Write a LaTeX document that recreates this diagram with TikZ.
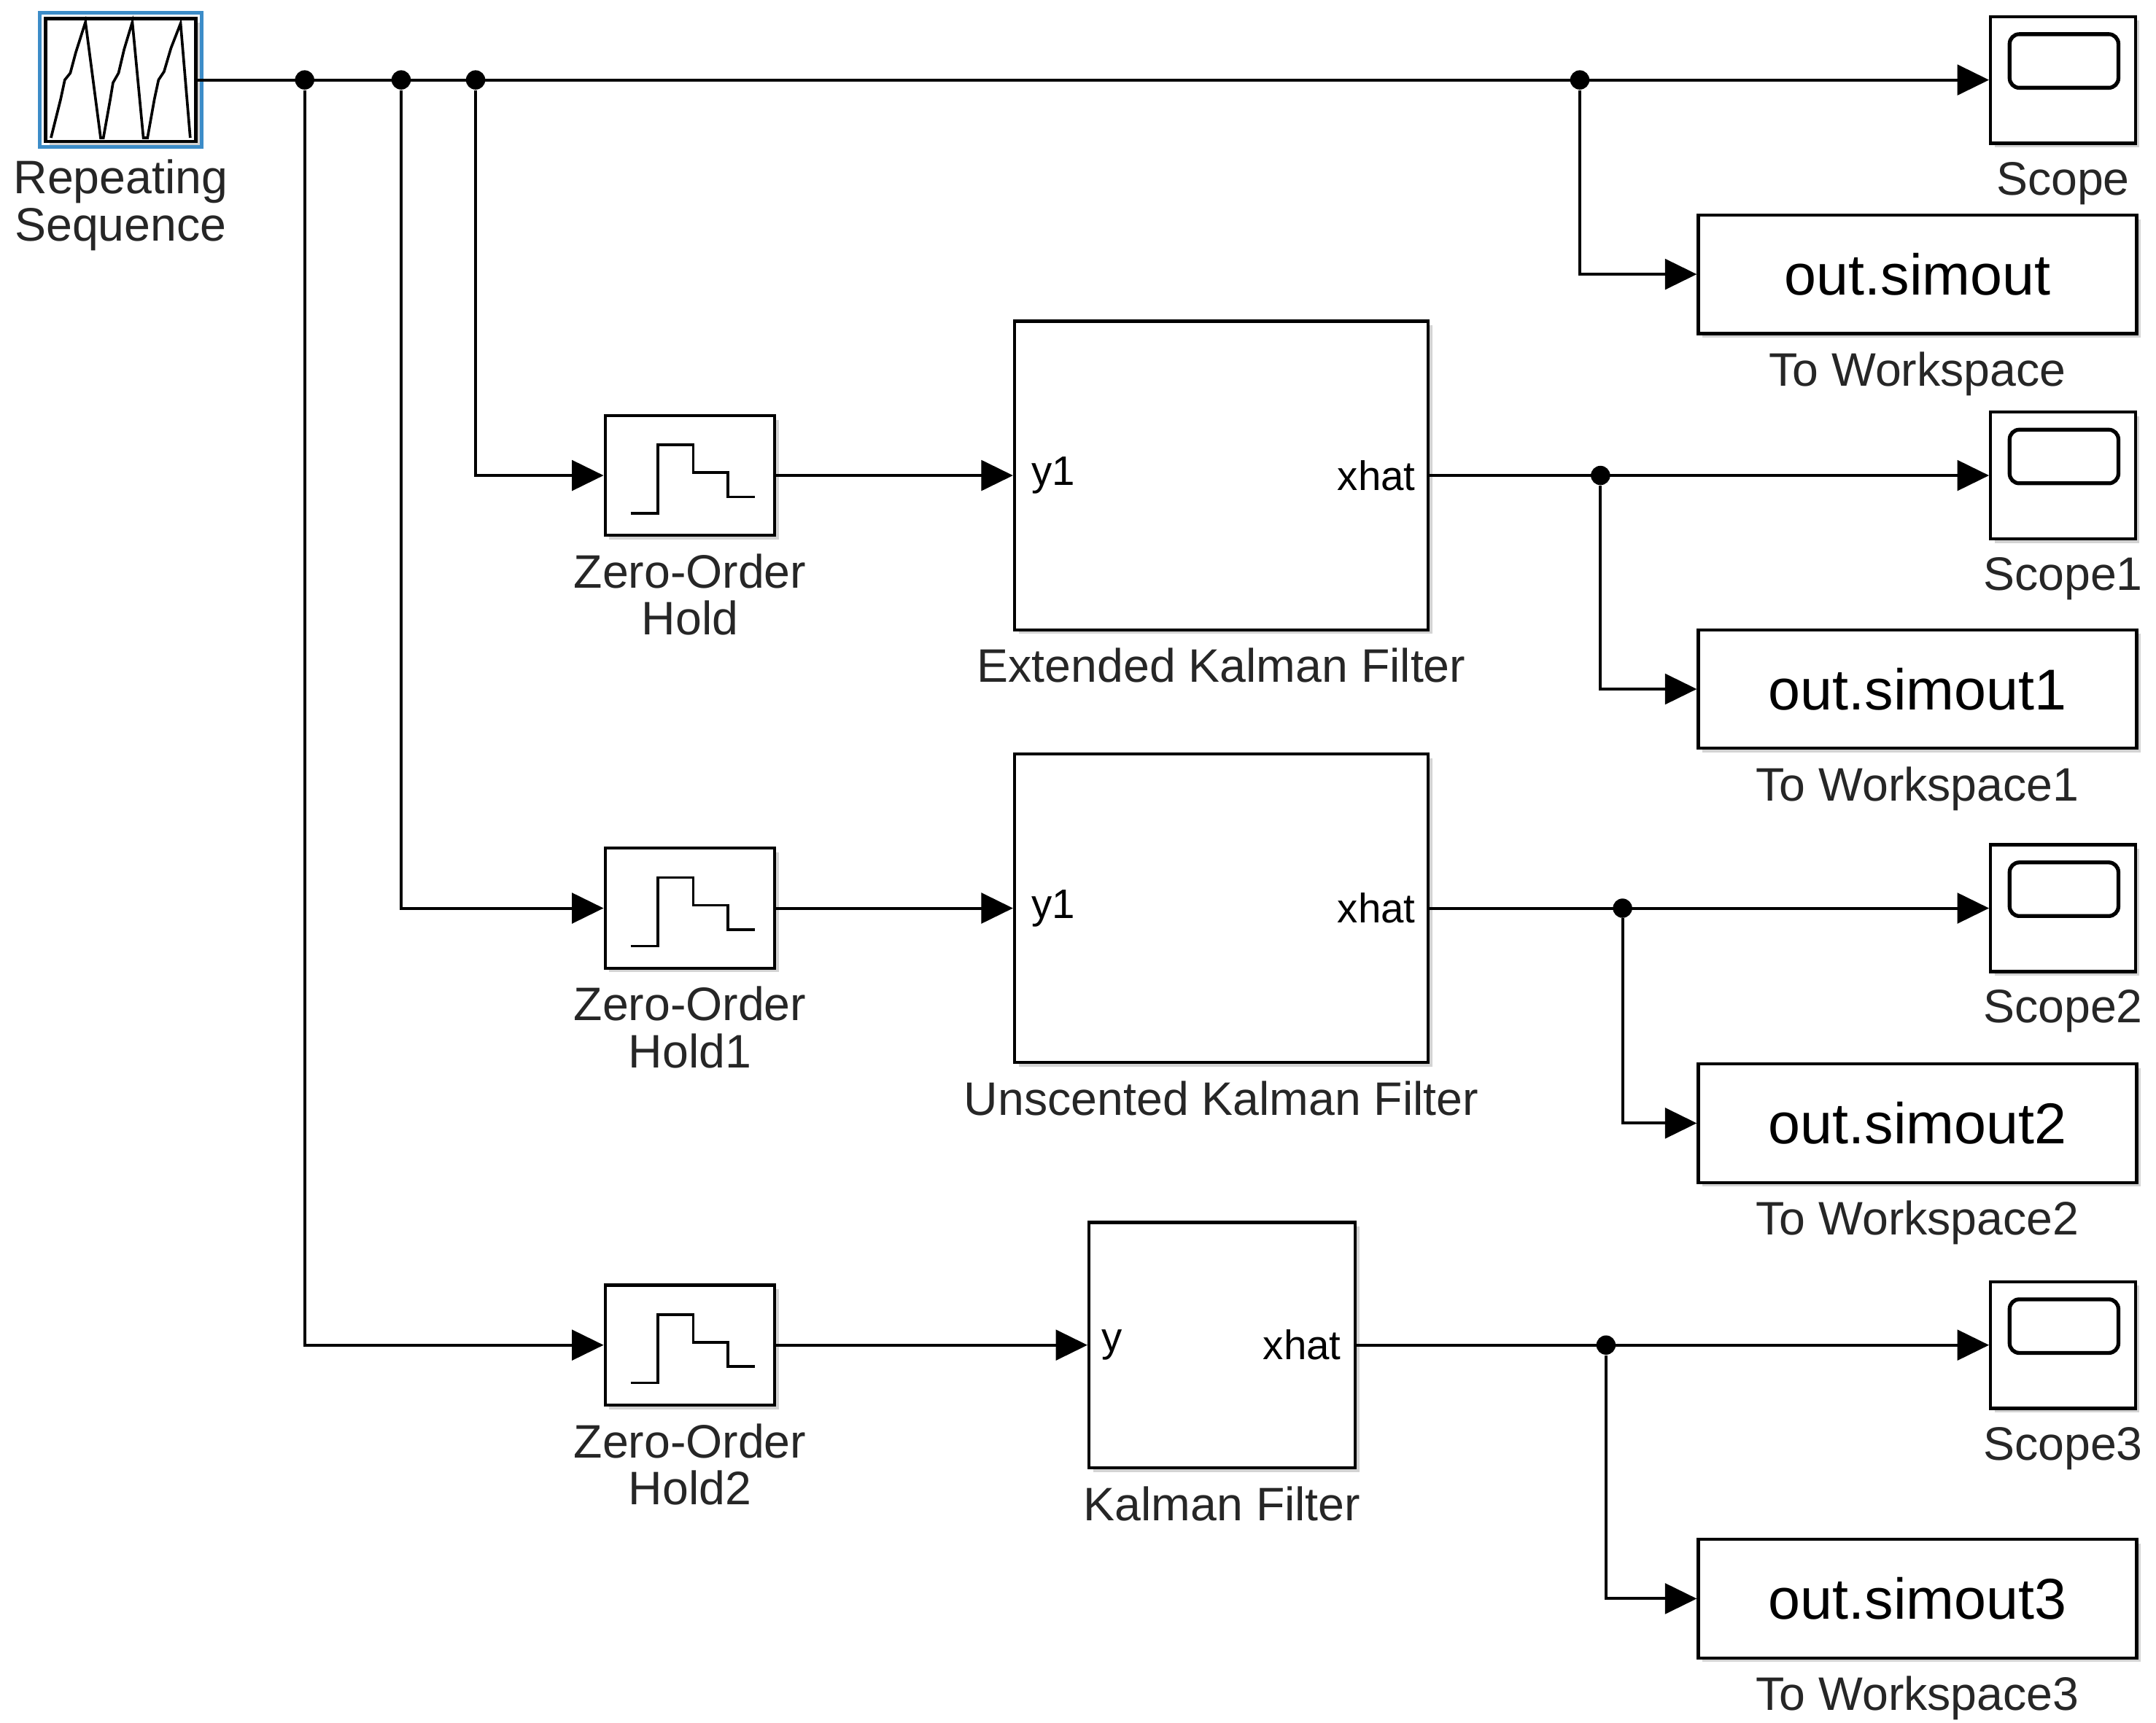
\documentclass[tikz,border=0pt]{standalone}
\usepackage{fontspec}
\setmainfont{Liberation Sans}
\usetikzlibrary{positioning,arrows.meta,shadows}

\definecolor{selblue}{RGB}{60,140,200}

\tikzset{
  blk/.style 2 args={draw, fill=white, line width=1.3pt, inner sep=0pt,
    minimum width=#1*0.02cm, minimum height=#2*0.02cm,
    drop shadow={shadow xshift=0.06cm, shadow yshift=-0.06cm, opacity=0.35}},
  wstext/.style={font=\fontsize{23.8}{23.8}\selectfont},
  lbl/.style={font=\fontsize{19.4}{19.4}\selectfont, text=black!85, align=center, inner sep=0pt},
  port/.style={font=\fontsize{17}{17}\selectfont, inner sep=0pt},
  jdot/.style={circle, fill=black, minimum size=0.28cm, inner sep=0pt},
  sig/.style={line width=1.2pt, -{Triangle[length=0.46cm,width=0.44cm]}},
  icon/.style={line width=1.1pt}
}

\begin{document}
\begin{tikzpicture}[x=0.02cm, y=-0.02cm]

\useasboundingbox (0,0) rectangle (1564,1250);

% source
\node[blk={109}{89}] (rep) at (87.5,58) {};
\draw [selblue,line width=1.5pt] ([shift={(-0.06cm,-0.06cm)}]rep.south west) rectangle ([shift={(0.06cm,0.06cm)}]rep.north east);
\draw [icon] (37,100) -- (44,72) -- (47,58) -- (51,53) -- (55,38) -- (62,16) -- (73,100)
  -- (75,100) -- (80,72) -- (82,60) -- (86,53) -- (90,36) -- (96,16) -- (104,100)
  -- (107,100) -- (112,72) -- (115,58) -- (119,52) -- (124,35) -- (131,17) -- (138,100);
\node[lbl, below=0.24cm of rep] (replbl) {Repeating\\Sequence};

% zero-order holds
\node[blk={123}{87}] (zoh0) at (500.5,345) {};
\node[blk={123}{87}] (zoh1) at (500.5,659) {};
\node[blk={123}{87}] (zoh2) at (500.5,976) {};
\foreach \z in {zoh0,zoh1,zoh2}
  \draw [icon, shift={(\z.center)}] (-43,27.5) -- (-23.3,27.5) -- (-23.3,-22.2) -- (2.4,-22.2)
    -- (2.4,-2.1) -- (27.5,-2.1) -- (27.5,15.6) -- (47.3,15.6);
\node[lbl, below=0.24cm of zoh0] (zoh0lbl) {Zero-Order\\Hold};
\node[lbl, below=0.24cm of zoh1] (zoh1lbl) {Zero-Order\\Hold1};
\node[lbl, below=0.24cm of zoh2] (zoh2lbl) {Zero-Order\\Hold2};

% filters
\node[blk={300}{224}] (ekf) at (886,345) {};
\node[blk={300}{224}] (ukf) at (886,659) {};
\node[blk={193}{178}] (kf) at (886.5,976) {};
\node[port, anchor=west] (ekfin) at ([xshift=0.26cm]ekf.west) {y1};
\node[port, anchor=east] (ekfout) at ([xshift=-0.2cm]ekf.east) {xhat};
\node[port, anchor=west] (ukfin) at ([xshift=0.26cm]ukf.west) {y1};
\node[port, anchor=east] (ukfout) at ([xshift=-0.2cm]ukf.east) {xhat};
\node[port, anchor=west] (kfin) at ([xshift=0.2cm]kf.west) {y};
\node[port, anchor=east] (kfout) at ([xshift=-0.22cm]kf.east) {xhat};
\node[lbl, below=0.24cm of ekf] (ekflbl) {Extended Kalman Filter};
\node[lbl, below=0.24cm of ukf] (ukflbl) {Unscented Kalman Filter};
\node[lbl, below=0.24cm of kf] (kflbl) {Kalman Filter};

% scopes
\node[blk={105}{92}] (scope0) at (1496.5,58) {};
\node[blk={105}{92}] (scope1) at (1496.5,345) {};
\node[blk={105}{92}] (scope2) at (1496.5,659) {};
\node[blk={105}{92}] (scope3) at (1496.5,976) {};
\foreach \s in {scope0,scope1,scope2,scope3}
  \draw [line width=1.6pt, rounded corners=0.14cm, shift={(\s.center)}] (-38.7,-33.2) rectangle (40.2,5.7);
\node[lbl, below=0.24cm of scope0] (scope0lbl) {Scope};
\node[lbl, below=0.24cm of scope1] (scope1lbl) {Scope1};
\node[lbl, below=0.24cm of scope2] (scope2lbl) {Scope2};
\node[lbl, below=0.24cm of scope3] (scope3lbl) {Scope3};

% to workspace
\node[blk={318}{86}, wstext] (ws0) at (1391,199) {out.simout};
\node[blk={318}{86}, wstext] (ws1) at (1391,500) {out.simout1};
\node[blk={318}{86}, wstext] (ws2) at (1391,815) {out.simout2};
\node[blk={318}{86}, wstext] (ws3) at (1391,1160) {out.simout3};
\node[lbl, below=0.24cm of ws0] (ws0lbl) {To Workspace};
\node[lbl, below=0.24cm of ws1] (ws1lbl) {To Workspace1};
\node[lbl, below=0.24cm of ws2] (ws2lbl) {To Workspace2};
\node[lbl, below=0.24cm of ws3] (ws3lbl) {To Workspace3};

% branch points
\node[jdot] (j1) at (221,58) {};
\node[jdot] (j2) at (291,58) {};
\node[jdot] (j3) at (345,58) {};
\node[jdot] (j4) at (1146,58) {};
\node[jdot] (k1) at (1161,345) {};
\node[jdot] (k2) at (1177,659) {};
\node[jdot] (k3) at (1165,976) {};

% signals
\draw [sig] (rep.east) -- (scope0.west);
\draw [sig] (j4) |- (ws0.west);
\draw [sig] (j3) |- (zoh0.west);
\draw [sig] (j2) |- (zoh1.west);
\draw [sig] (j1) |- (zoh2.west);

\draw [sig] (zoh0.east) -- (ekf.west);
\draw [sig] (zoh1.east) -- (ukf.west);
\draw [sig] (zoh2.east) -- (kf.west);

\draw [sig] (ekf.east) -- (scope1.west);
\draw [sig] (ukf.east) -- (scope2.west);
\draw [sig] (kf.east) -- (scope3.west);

\draw [sig] (k1) |- (ws1.west);
\draw [sig] (k2) |- (ws2.west);
\draw [sig] (k3) |- (ws3.west);

\end{tikzpicture}
\end{document}
